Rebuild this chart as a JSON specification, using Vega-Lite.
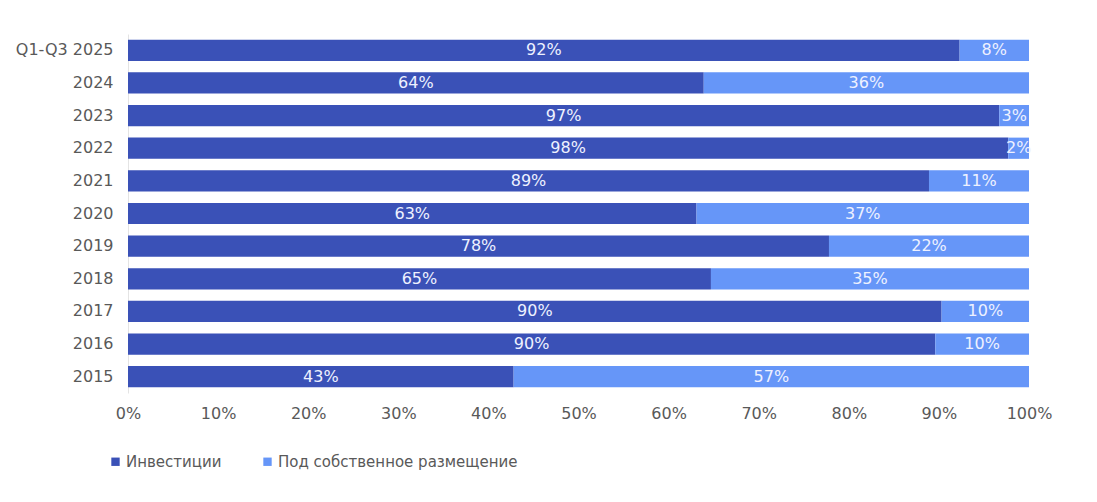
{
  "$schema": "https://vega.github.io/schema/vega-lite/v6.json",
  "width": 901,
  "height": 359,
  "autosize": {"type": "none"},
  "padding": {"left": 128, "top": 34, "right": 68, "bottom": 109},
  "background": "white",
  "config": {
    "font": "DejaVu Sans",
    "view": {"stroke": null}
  },
  "data": {
    "values": [
      {"year": "Q1-Q3 2025", "type": "Инвестиции", "order": 1, "value": 0.923, "label": "92%"},
      {"year": "Q1-Q3 2025", "type": "Под собственное размещение", "order": 2, "value": 0.077, "label": "8%"},
      {"year": "2024", "type": "Инвестиции", "order": 1, "value": 0.639, "label": "64%"},
      {"year": "2024", "type": "Под собственное размещение", "order": 2, "value": 0.361, "label": "36%"},
      {"year": "2023", "type": "Инвестиции", "order": 1, "value": 0.967, "label": "97%"},
      {"year": "2023", "type": "Под собственное размещение", "order": 2, "value": 0.033, "label": "3%"},
      {"year": "2022", "type": "Инвестиции", "order": 1, "value": 0.977, "label": "98%"},
      {"year": "2022", "type": "Под собственное размещение", "order": 2, "value": 0.023, "label": "2%"},
      {"year": "2021", "type": "Инвестиции", "order": 1, "value": 0.889, "label": "89%"},
      {"year": "2021", "type": "Под собственное размещение", "order": 2, "value": 0.111, "label": "11%"},
      {"year": "2020", "type": "Инвестиции", "order": 1, "value": 0.631, "label": "63%"},
      {"year": "2020", "type": "Под собственное размещение", "order": 2, "value": 0.369, "label": "37%"},
      {"year": "2019", "type": "Инвестиции", "order": 1, "value": 0.778, "label": "78%"},
      {"year": "2019", "type": "Под собственное размещение", "order": 2, "value": 0.222, "label": "22%"},
      {"year": "2018", "type": "Инвестиции", "order": 1, "value": 0.647, "label": "65%"},
      {"year": "2018", "type": "Под собственное размещение", "order": 2, "value": 0.353, "label": "35%"},
      {"year": "2017", "type": "Инвестиции", "order": 1, "value": 0.903, "label": "90%"},
      {"year": "2017", "type": "Под собственное размещение", "order": 2, "value": 0.097, "label": "10%"},
      {"year": "2016", "type": "Инвестиции", "order": 1, "value": 0.896, "label": "90%"},
      {"year": "2016", "type": "Под собственное размещение", "order": 2, "value": 0.104, "label": "10%"},
      {"year": "2015", "type": "Инвестиции", "order": 1, "value": 0.428, "label": "43%"},
      {"year": "2015", "type": "Под собственное размещение", "order": 2, "value": 0.572, "label": "57%"}
    ]
  },
  "transform": [
    {"stack": "value", "groupby": ["year"], "sort": [{"field": "order", "order": "ascending"}], "as": ["v0", "v1"]},
    {"calculate": "(datum.v0 + datum.v1) / 2", "as": "mid"}
  ],
  "encoding": {
    "y": {
      "field": "year",
      "type": "nominal",
      "sort": ["Q1-Q3 2025", "2024", "2023", "2022", "2021", "2020", "2019", "2018", "2017", "2016", "2015"],
      "scale": {"paddingInner": 0.35, "paddingOuter": 0.175},
      "axis": {
        "title": null,
        "ticks": false,
        "domain": true,
        "domainColor": "#e4e4e4",
        "labelColor": "#595959",
        "labelFontSize": 16,
        "labelPadding": 15
      }
    }
  },
  "layer": [
    {
      "mark": {"type": "bar"},
      "encoding": {
        "x": {
          "field": "v0",
          "type": "quantitative",
          "scale": {"domain": [0, 1], "nice": false},
          "axis": {
            "title": null,
            "format": ".0%",
            "values": [0, 0.1, 0.2, 0.3, 0.4, 0.5, 0.6, 0.7, 0.8, 0.9, 1],
            "grid": false,
            "domain": false,
            "ticks": false,
            "labelFlush": false,
            "labelColor": "#595959",
            "labelFontSize": 16,
            "labelPadding": 12
          }
        },
        "x2": {"field": "v1"},
        "color": {
          "field": "type",
          "type": "nominal",
          "scale": {
            "domain": ["Инвестиции", "Под собственное размещение"],
            "range": ["#3a51b7", "#6696f8"]
          },
          "legend": {
            "title": null,
            "orient": "none",
            "legendX": -20,
            "legendY": 420,
            "direction": "horizontal",
            "symbolType": "square",
            "symbolSize": 70,
            "symbolStrokeWidth": 0,
            "labelFontSize": 15,
            "labelLimit": 400,
            "labelColor": "#595959",
            "columnPadding": 38,
            "labelOffset": 3
          }
        }
      }
    },
    {
      "mark": {"type": "text", "color": "#eef1ff", "fontSize": 16, "baseline": "middle", "align": "center"},
      "encoding": {
        "x": {"field": "mid", "type": "quantitative"},
        "text": {"field": "label"}
      }
    }
  ]
}
